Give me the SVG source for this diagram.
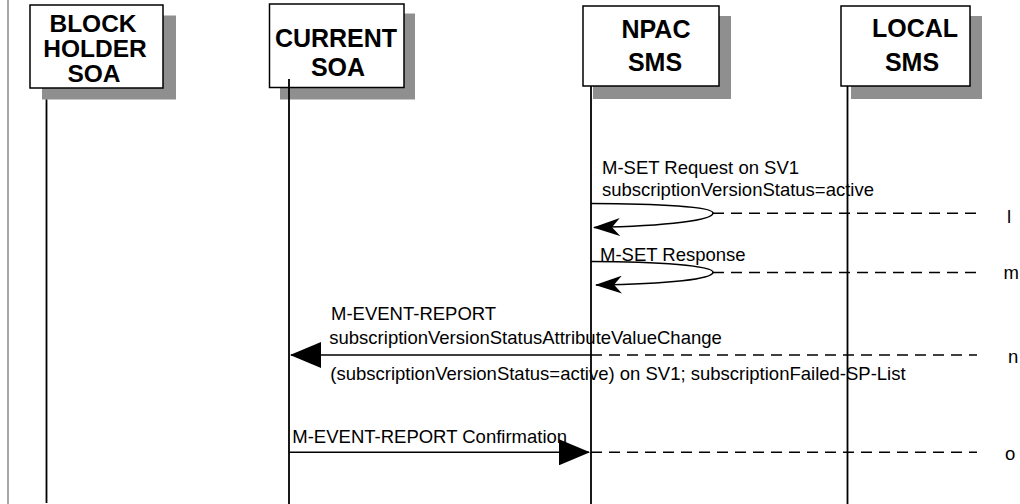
<svg xmlns="http://www.w3.org/2000/svg" width="1020" height="504" viewBox="0 0 1020 504">
  <style>
    .shadow { fill: #8f8f8f; stroke: none; }
    .box { fill: #ffffff; stroke: #000000; stroke-width: 1.5; }
    .title { font-family: "Liberation Sans", Arial, sans-serif; font-weight: bold; font-size: 25px; fill: #000; text-anchor: middle; }
    .tight { font-size: 24.5px; }
    .life { stroke: #000; stroke-width: 1.8; fill: none; }
    .msg { stroke: #000; stroke-width: 1.6; fill: none; }
    .dash { stroke: #000; stroke-width: 1.6; fill: none; stroke-dasharray: 11 7; }
    .lbl { font-family: "Liberation Sans", Arial, sans-serif; font-size: 18.5px; fill: #000; }
  </style>
  <defs>
    <marker id="tri" markerUnits="userSpaceOnUse" viewBox="0 0 31 26" markerWidth="31" markerHeight="26" refX="30" refY="13" orient="auto">
      <path d="M0,0 L31,13 L0,26 z" fill="#000"/>
    </marker>
    <marker id="stealth" markerUnits="userSpaceOnUse" viewBox="0 0 27 18" markerWidth="27" markerHeight="18" refX="26" refY="9" orient="auto">
      <path d="M0,0 L27,9 L0,18 L8,9 z" fill="#000"/>
    </marker>
  </defs>
  <rect width="1020" height="504" fill="#ffffff"/>
  <line x1="8" y1="0" x2="8" y2="504" stroke="#8a8a8a" stroke-width="1.5"/>

  <g id="block-holder-soa">
    <rect class="shadow" x="42" y="15.5" width="134" height="84"/>
    <rect class="box" x="30" y="5" width="133" height="83"/>
    <text class="title tight" x="93" y="31.5">BLOCK</text>
    <text class="title tight" x="95" y="57">HOLDER</text>
    <text class="title tight" x="94" y="81.5">SOA</text>
    <line class="life" x1="46.5" y1="99.5" x2="46.5" y2="503"/>
  </g>

  <g id="current-soa">
    <rect class="shadow" x="280" y="13.5" width="135" height="86"/>
    <rect class="box" x="269.5" y="4" width="134.5" height="83.5"/>
    <text class="title" x="336" y="47.3">CURRENT</text>
    <text class="title" x="338" y="75.7">SOA</text>
    <line class="life" x1="289" y1="79" x2="289" y2="504"/>
  </g>

  <g id="npac-sms">
    <rect class="shadow" x="593" y="16" width="138" height="83"/>
    <rect class="box" x="583" y="6" width="136" height="80"/>
    <text class="title" x="656" y="37.7">NPAC</text>
    <text class="title" x="655" y="71">SMS</text>
    <line class="life" x1="591" y1="86" x2="591" y2="504"/>
  </g>

  <g id="local-sms">
    <rect class="shadow" x="851" y="16" width="131" height="83"/>
    <rect class="box" x="841" y="6" width="129" height="80"/>
    <text class="title" x="915" y="36.7">LOCAL</text>
    <text class="title" x="912" y="71">SMS</text>
    <line class="life" x1="847.5" y1="86" x2="847.5" y2="504"/>
  </g>

  <g id="connectors">
    <!-- l: M-SET Request self message -->
    <path class="msg" d="M591,203.5 C660,203.5 713,207 713,213 C713,220 670,226 594,227.5" marker-end="url(#stealth)"/>
    <line class="dash" x1="713" y1="213.3" x2="978" y2="213.3"/>
    <text class="lbl" x="602" y="174.3">M-SET Request on SV1</text>
    <text class="lbl" x="602" y="196">subscriptionVersionStatus=active</text>
    <text class="lbl" x="1007" y="222.5">l</text>

    <!-- m: M-SET Response self message -->
    <path class="msg" d="M591,261.5 C660,261.5 713,266 713,272.3 C713,279 670,284 596,285" marker-end="url(#stealth)"/>
    <line class="dash" x1="713" y1="272.5" x2="978" y2="272.5"/>
    <text class="lbl" x="600" y="261">M-SET Response</text>
    <text class="lbl" x="1003.5" y="278.5">m</text>

    <!-- n: M-EVENT-REPORT to CURRENT SOA -->
    <line class="msg" x1="591" y1="355" x2="291" y2="355" marker-end="url(#tri)"/>
    <line class="dash" x1="591" y1="355" x2="977" y2="355"/>
    <text class="lbl" x="331" y="320">M-EVENT-REPORT</text>
    <text class="lbl" x="329.3" y="344">subscriptionVersionStatusAttributeValueChange</text>
    <text class="lbl" x="330.3" y="380">(subscriptionVersionStatus=active) on SV1; subscriptionFailed-SP-List</text>
    <text class="lbl" x="1008" y="363">n</text>

    <!-- o: M-EVENT-REPORT Confirmation -->
    <line class="msg" x1="289" y1="452.3" x2="589" y2="452.3" marker-end="url(#tri)"/>
    <line class="dash" x1="591" y1="452.3" x2="977" y2="452.3"/>
    <text class="lbl" x="292.3" y="443.3">M-EVENT-REPORT Confirmation</text>
    <text class="lbl" x="1005" y="460">o</text>
  </g>
</svg>
